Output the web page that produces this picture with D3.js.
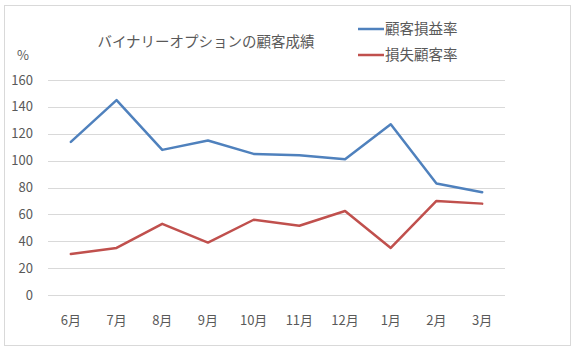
<!DOCTYPE html>
<html>
<head>
<meta charset="utf-8">
<script src="https://cdn.jsdelivr.net/npm/d3@7"></script>
<style>
  body { margin: 0; background: #fff; }
  text { font-family: "Noto Sans CJK JP", "Noto Sans", sans-serif; fill: #595959; }
</style>
</head>
<body>
<div id="chart"></div>
<script>
// data
var months = ["6月", "7月", "8月", "9月", "10月", "11月", "12月", "1月", "2月", "3月"]
var profitRate = [114, 145, 108, 115, 105, 104, 101, 127, 83, 76.5]
var lossRate = [30.5, 35, 53, 39, 56, 51.5, 62.5, 35, 70, 68]
var seriesNames = ["顧客損益率", "損失顧客率"]
var yTicks = [0, 20, 40, 60, 80, 100, 120, 140, 160]

const W = 576, H = 351
const margin = {top: 80, right: 71, bottom: 56, left: 48},
    width = W - margin.left - margin.right,
    height = H - margin.top - margin.bottom

var colors = ["#4F81BD", "#C0504D"]

var svg = d3.select("#chart")
  .append("svg")
  .attr("width", W)
  .attr("height", H)

// chart border
svg.append("rect")
  .attr("x", 4.5).attr("y", 5.5)
  .attr("width", 566).attr("height", 340)
  .attr("fill", "#fff")
  .attr("stroke", "#D9D9D9")

var g = svg.append("g")
  .attr("transform", "translate(" + margin.left + "," + margin.top + ")")

var x = d3.scaleBand()
  .domain(months)
  .range([0, width])

var y = d3.scaleLinear()
  .domain([0, 160])
  .range([height, 0])

// gridlines
g.append("g")
  .selectAll("line")
  .data(yTicks)
  .enter()
  .append("line")
  .attr("x1", 0).attr("x2", width)
  .attr("y1", d => Math.round(y(d)) + 0.5)
  .attr("y2", d => Math.round(y(d)) + 0.5)
  .attr("stroke", "#D9D9D9")

// y labels
g.append("g")
  .selectAll("text")
  .data(yTicks)
  .enter()
  .append("text")
  .attr("x", -15)
  .attr("y", d => y(d))
  .attr("dy", "0.35em")
  .attr("text-anchor", "end")
  .style("font-size", "13px")
  .text(d => d)

// x labels
g.append("g")
  .selectAll("text")
  .data(months)
  .enter()
  .append("text")
  .attr("x", d => x(d) + x.bandwidth() / 2)
  .attr("y", height + 30)
  .attr("text-anchor", "middle")
  .style("font-size", "13px")
  .text(d => d)

// unit
svg.append("text")
  .attr("x", 23).attr("y", 60)
  .attr("text-anchor", "middle")
  .style("font-size", "13px")
  .text("%")

// lines
var line = d3.line()
  .x((d, i) => x(months[i]) + x.bandwidth() / 2)
  .y(d => y(d))

;[profitRate, lossRate].forEach(function(s, i) {
  g.append("path")
    .datum(s)
    .attr("d", line)
    .attr("fill", "none")
    .attr("stroke", colors[i])
    .attr("stroke-width", 2.5)
    .attr("stroke-linejoin", "round")
    .attr("stroke-linecap", "round")
})

// title
svg.append("text")
  .attr("x", 206).attr("y", 47)
  .attr("text-anchor", "middle")
  .style("font-size", "14.5px")
  .text("バイナリーオプションの顧客成績")

// legend
var legend = svg.append("g")
  .selectAll("g")
  .data(seriesNames)
  .enter()
  .append("g")
  .attr("transform", (d, i) => "translate(358," + (29 + i * 26) + ")")

legend.append("line")
  .attr("x1", 0).attr("x2", 26)
  .attr("stroke", (d, i) => colors[i])
  .attr("stroke-width", 2.5)

legend.append("text")
  .attr("x", 27)
  .attr("dy", "0.35em")
  .style("font-size", "14.5px")
  .text(d => d)
</script>
</body>
</html>
